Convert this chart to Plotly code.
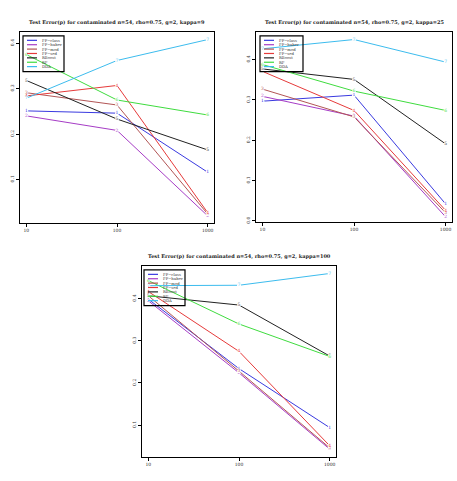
import plotly.graph_objects as go

W, H = 457, 481

x_n = [10, 100, 1000]
methods = ["FP\u2212class", "FP\u2212huber", "FP\u2212mod", "FP\u2212sed", "RBoost", "RF", "DDA"]
colors = ["#3a3ae0", "#a63cc6", "#b25555", "#e63a3a", "#222222", "#3fdc3f", "#3cbcee"]

# Test error values per panel (rows follow methods)
err_k9 = [
    [0.251, 0.246, 0.116],
    [0.240, 0.208, 0.020],
    [0.291, 0.264, 0.024],
    [0.284, 0.307, 0.027],
    [0.318, 0.233, 0.165],
    [0.375, 0.275, 0.242],
    [0.279, 0.362, 0.408],
]
err_k25 = [
    [0.297, 0.312, 0.042],
    [0.309, 0.260, 0.010],
    [0.327, 0.258, 0.020],
    [0.371, 0.274, 0.026],
    [0.377, 0.351, 0.191],
    [0.388, 0.322, 0.274],
    [0.427, 0.450, 0.394],
]
err_k100 = [
    [0.399, 0.234, 0.094],
    [0.395, 0.224, 0.043],
    [0.407, 0.228, 0.046],
    [0.417, 0.275, 0.051],
    [0.407, 0.385, 0.264],
    [0.443, 0.340, 0.263],
    [0.431, 0.432, 0.460],
]

titles = [
    "Test Error(p) for contaminated n=54, rho=0.75, g=2, kappa=9",
    "Test Error(p) for contaminated n=54, rho=0.75, g=2, kappa=25",
    "Test Error(p) for contaminated n=54, rho=0.75, g=2, kappa=100",
]
yticks = [[0.1, 0.2, 0.3, 0.4], [0.0, 0.1, 0.2, 0.3, 0.4], [0.1, 0.2, 0.3, 0.4]]
yranges = [[0.004, 0.425], [-0.003, 0.469], [0.024, 0.478]]
# frames in pixels: left, right, top, bottom
frames = [(20, 214, 32, 224), (256, 452, 32, 223), (142, 336, 267, 459)]
legend_boxes = [(23, 64, 36, 72), (260, 303, 36, 72), (144, 185, 271, 307)]
data_sets = [err_k9, err_k25, err_k100]

FONT = "DejaVu Serif"

def px(x):
    return x / W

def py(y):
    return 1 - y / H

fig = go.Figure()
annotations = []
shapes = []
for p in range(3):
    xa = "x" if p == 0 else f"x{p+1}"
    ya = "y" if p == 0 else f"y{p+1}"
    for i, m in enumerate(methods):
        fig.add_trace(go.Scatter(
            x=x_n, y=data_sets[p][i], mode="lines+markers+text",
            line=dict(color=colors[i], width=1),
            marker=dict(size=4, color="white", line=dict(width=0)),
            text=[str(i + 1)] * 3, textposition="middle center",
            textfont=dict(size=4.5, color=colors[i], family=FONT),
            xaxis=xa, yaxis=ya, showlegend=False, cliponaxis=False,
        ))
    l, r, t, b = frames[p]
    axkw = dict(showline=True, linecolor="black", linewidth=1, mirror=True,
                ticks="outside", ticklen=3, tickcolor="black", showgrid=False,
                zeroline=False, tickfont=dict(size=4.5, family=FONT, color="#333"))
    fig.layout[("xaxis" if p == 0 else f"xaxis{p+1}")] = dict(
        type="log", range=[0.93, 3.07], domain=[px(l), px(r)],
        anchor=ya, tickvals=x_n, ticktext=[str(v) for v in x_n], **axkw)
    fig.layout[("yaxis" if p == 0 else f"yaxis{p+1}")] = dict(
        range=yranges[p], domain=[py(b), py(t)], anchor=xa,
        tickvals=yticks[p], ticktext=[f"{v:.1f}" for v in yticks[p]],
        tickangle=-90, **axkw)
    annotations.append(dict(text="<b>" + titles[p] + "</b>", x=px((l + r) / 2), y=py(t - 9),
                            xref="paper", yref="paper", xanchor="center", yanchor="middle",
                            showarrow=False,
                            font=dict(size=5.0, family=FONT, color="#222")))
    bl, br, bt, bb = legend_boxes[p]
    shapes.append(dict(type="rect", xref="paper", yref="paper", x0=px(bl), x1=px(br),
                       y0=py(bb), y1=py(bt), line=dict(color="black", width=1.2),
                       fillcolor="rgba(0,0,0,0)", layer="above"))
    for i, m in enumerate(methods):
        yy = bt + 4.5 + i * 4.4
        shapes.append(dict(type="line", xref="paper", yref="paper", x0=px(bl + 4), x1=px(bl + 14),
                           y0=py(yy), y1=py(yy), line=dict(color=colors[i], width=1.2), layer="above"))
        annotations.append(dict(text=m, x=px(bl + 17), y=py(yy), xref="paper", yref="paper",
                                xanchor="left", yanchor="middle", showarrow=False,
                                font=dict(size=3.8, family=FONT, color="#333")))

fig.update_layout(width=W, height=H, margin=dict(l=0, r=0, t=0, b=0),
                  paper_bgcolor="white", plot_bgcolor="white",
                  annotations=annotations, shapes=shapes, showlegend=False)
fig.write_html("out.html")
